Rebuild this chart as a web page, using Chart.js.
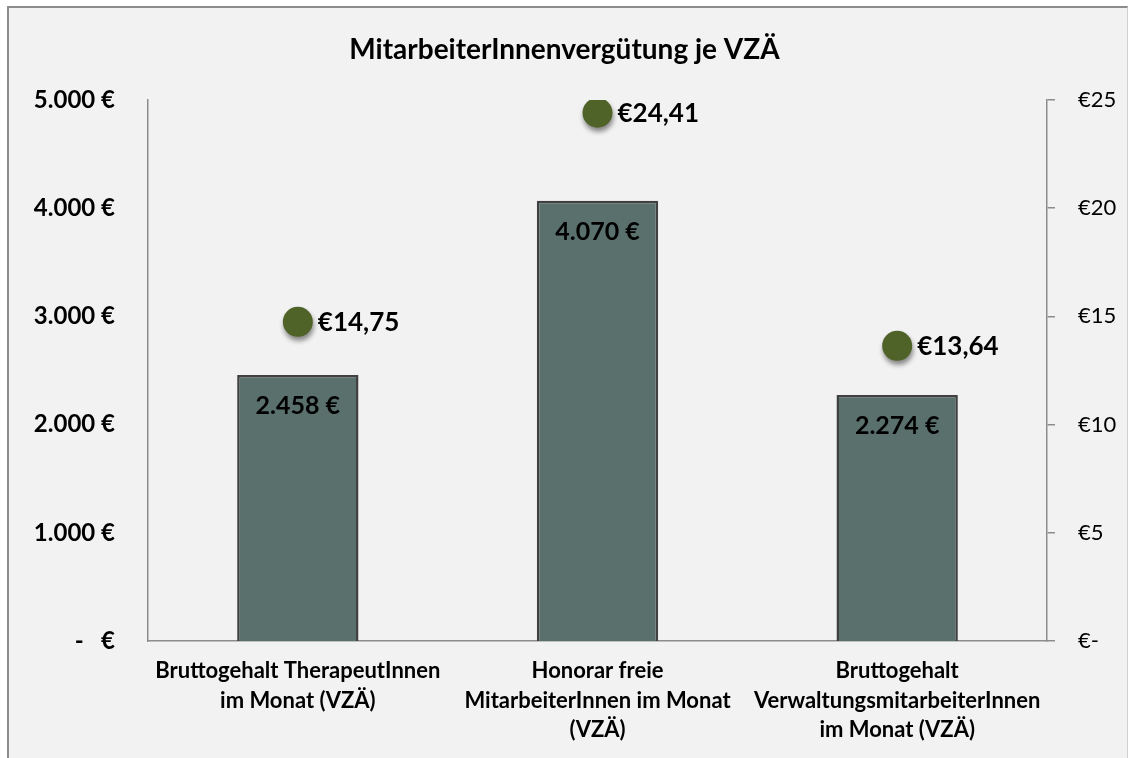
<!DOCTYPE html>
<html>
<head>
<meta charset="utf-8">
<script src="https://cdn.jsdelivr.net/npm/chart.js@4"></script>
<style>
  html, body { margin: 0; padding: 0; background: #ffffff; }
  #frame {
    position: absolute; left: 7px; top: 6px; width: 1121px; height: 760px;
    background: #f2f2f2; border-left: 2px solid #8c8c8c; border-top: 2px solid #8c8c8c;
    border-right: 1px solid #d0d0d0;
    box-sizing: border-box;
  }
  #wrap { position: absolute; left: 0; top: 0; width: 1129px; height: 758px; }
</style>
</head>
<body>
<div id="frame"></div>
<div id="wrap"><canvas id="chart"></canvas></div>
<script>
// Chart data
const categories = [
    ['Bruttogehalt TherapeutInnen', 'im Monat (VZÄ)'],
    ['Honorar freie', 'MitarbeiterInnen im Monat', '(VZÄ)'],
    ['Bruttogehalt', 'VerwaltungsmitarbeiterInnen', 'im Monat (VZÄ)']
];
const monthlyPay = [2458, 4070, 2274];          // left axis, EUR per month
const hourlyPay = [14.75, 24.41, 13.64];         // right axis, EUR per hour
const leftTicks = [0, 1000, 2000, 3000, 4000, 5000];
const rightTicks = [0, 5, 10, 15, 20, 25];

const FONT = 'Lato, "Open Sans", sans-serif';

// format helpers (German style)
function euroThousands(v) {
    if (v === 0) return '-   €';
    return v.toLocaleString('de-DE') + ' €';
}
function euroRight(v) {
    if (v === 0) return '€-';
    return '€' + v;
}
function euroDecimal(v) {
    return '€' + v.toFixed(2).replace('.', ',');
}

// draws value labels on bars and points
const valueLabels = {
    id: 'valueLabels',
    afterDatasetsDraw(chart) {
        const ctx = chart.ctx;
        ctx.save();
        ctx.fillStyle = '#000000';
        ctx.textBaseline = 'middle';

        ctx.font = 'bold 25px ' + FONT;
        const bars = chart.getDatasetMeta(0).data;
        ctx.textAlign = 'center';
        bars.forEach((bar, i) => {
            ctx.fillText(euroThousands(monthlyPay[i]), bar.x, bar.y + 31);
        });

        ctx.font = 'bold 26px ' + FONT;
        const pts = chart.getDatasetMeta(1).data;
        ctx.textAlign = 'left';
        pts.forEach((pt, i) => {
            ctx.fillText(euroDecimal(hourlyPay[i]), pt.x + 20, pt.y + 1);
        });
        ctx.restore();
    }
};

// soft shadow under the points
const pointShadow = {
    id: 'pointShadow',
    beforeDatasetDraw(chart, args) {
        if (args.index !== 1) return;
        const ctx = chart.ctx;
        ctx.save();
        ctx.shadowColor = 'rgba(0,0,0,0.45)';
        ctx.shadowBlur = 5;
        ctx.shadowOffsetX = 1;
        ctx.shadowOffsetY = 4;
    },
    afterDatasetDraw(chart, args) {
        if (args.index !== 1) return;
        chart.ctx.restore();
    }
};

const ctx = document.getElementById('chart').getContext('2d');
const chart = new Chart(ctx, {
    type: 'bar',
    data: {
        labels: categories,
        datasets: [{
            label: 'Monat',
            data: monthlyPay,
            yAxisID: 'y',
            backgroundColor: '#5a706c',
            borderColor: '#404040',
            borderWidth: 2.5,
            borderSkipped: 'bottom',
            categoryPercentage: 0.81,
            barPercentage: 0.5,
            order: 2
        }, {
            type: 'line',
            label: 'Stunde',
            data: hourlyPay,
            yAxisID: 'y1',
            showLine: false,
            pointRadius: 15,
            pointHoverRadius: 15,
            pointBackgroundColor: '#4f6228',
            pointBorderColor: '#4f6228',
            pointBorderWidth: 0,
            order: 1
        }]
    },
    options: {
        responsive: true,
        maintainAspectRatio: false,
        animation: false,
        layout: { padding: { left: 0, right: 0, top: 0, bottom: 0 } },
        plugins: {
            legend: { display: false },
            tooltip: { enabled: false },
            title: {
                display: true,
                text: 'MitarbeiterInnenvergütung je VZÄ',
                color: '#000000',
                font: { family: FONT, size: 28, weight: 'bold', lineHeight: 1.2 },
                padding: { top: 33, bottom: 33.4 }
            }
        },
        scales: {
            x: {
                grid: { display: false, drawTicks: false },
                border: { color: '#8c8c8c', width: 1.5 },
                ticks: {
                    color: '#000000',
                    padding: 15,
                    maxRotation: 0,
                    autoSkip: false,
                    font: { family: FONT, size: 22, weight: 'bold', lineHeight: 1.35 }
                },
                afterFit(scale) { scale.height = 117; }
            },
            y: {
                position: 'left',
                min: 0,
                max: 5000,
                afterBuildTicks(scale) { scale.ticks = leftTicks.map(v => ({ value: v })); },
                grid: { display: false, drawTicks: false },
                border: { color: '#8c8c8c', width: 1.5 },
                ticks: {
                    color: '#000000',
                    padding: 33,
                    font: { family: FONT, size: 24, weight: 'bold' },
                    callback: v => euroThousands(v)
                },
                afterFit(scale) { scale.width = 148; }
            },
            y1: {
                position: 'right',
                min: 0,
                max: 25,
                afterBuildTicks(scale) { scale.ticks = rightTicks.map(v => ({ value: v })); },
                grid: { drawOnChartArea: false, drawTicks: true, tickLength: 8, color: '#8c8c8c', lineWidth: 1.5 },
                border: { color: '#8c8c8c', width: 1.5 },
                ticks: {
                    color: '#000000',
                    padding: 23,
                    font: { family: FONT, size: 22 },
                    callback: v => euroRight(v)
                },
                afterFit(scale) { scale.width = 82; }
            }
        }
    },
    plugins: [pointShadow, valueLabels]
});
</script>
</body>
</html>
